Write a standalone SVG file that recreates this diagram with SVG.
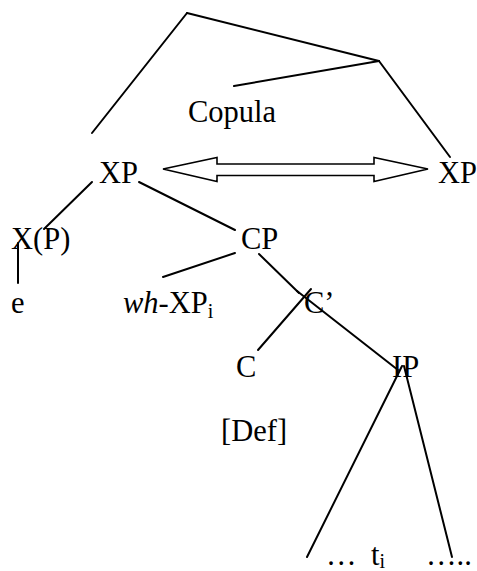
<svg xmlns="http://www.w3.org/2000/svg" width="477" height="571" viewBox="0 0 477 571">
<style>
text{font-family:"Liberation Serif","Times New Roman",serif;font-size:30.5px;fill:#000}
.sub{font-size:20px}
.edge{stroke:#000;stroke-width:2;fill:none;stroke-linecap:round}
.arrow{stroke:#000;stroke-width:1.6;fill:#fff;stroke-linejoin:miter}
</style>
<rect width="477" height="571" fill="#fff"/>
<g id="connectors">
<line class="edge" x1="187" y1="13" x2="92" y2="133"/>
<line class="edge" x1="187" y1="13" x2="379" y2="61"/>
<line class="edge" x1="379" y1="61" x2="234" y2="86"/>
<line class="edge" x1="379" y1="61" x2="450" y2="157"/>
<polygon class="arrow" points="163,169 217,157.5 217,164 374,164 374,157.5 428,169 374,181.5 374,175.5 217,175.5 217,181.5"/>
<line class="edge" x1="92" y1="182" x2="44" y2="229"/>
<line class="edge" x1="139" y1="182" x2="235" y2="230"/>
<line class="edge" x1="18" y1="243" x2="18" y2="283"/>
<line class="edge" x1="235" y1="253" x2="163" y2="277"/>
<line class="edge" x1="259" y1="254" x2="299" y2="293"/>
<line class="edge" x1="297" y1="291" x2="398" y2="370"/>
<line class="edge" x1="311" y1="289" x2="258" y2="350"/>
<line class="edge" x1="402" y1="366" x2="307" y2="557"/>
<line class="edge" x1="404" y1="366" x2="452" y2="557"/>
</g>
<g id="copula"><text x="188" y="122">Copula</text></g>
<g id="xp-left"><text x="99" y="183">XP</text></g>
<g id="xp-right"><text x="438" y="183">XP</text></g>
<g id="x-p"><text x="11" y="249">X(P)</text></g>
<g id="cp"><text x="241" y="249">CP</text></g>
<g id="e"><text x="11" y="313">e</text></g>
<g id="wh-xp"><text x="123" y="313"><tspan font-style="italic">wh</tspan>-XP<tspan class="sub" dy="5">i</tspan></text></g>
<g id="c-bar"><text x="304" y="313">C’</text></g>
<g id="c"><text x="236" y="377">C</text></g>
<g id="ip"><text x="392" y="377">IP</text></g>
<g id="def"><text x="221" y="441">[Def]</text></g>
<g id="trace"><text x="326" y="565">…</text><text x="371" y="565">t<tspan class="sub" dy="3">i</tspan></text><text x="426" y="565">…..</text></g>
</svg>
